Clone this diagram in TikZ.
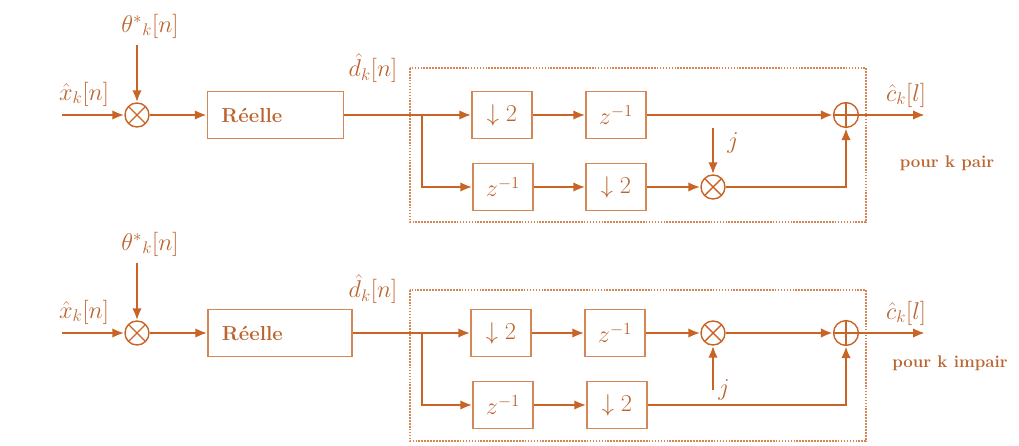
\documentclass[tikz,border=0pt]{standalone}
\usetikzlibrary{arrows.meta}
\definecolor{sigline}{RGB}{200,100,38}
\definecolor{boxline}{RGB}{212,134,84}
\definecolor{labtext}{RGB}{188,100,48}
\tikzset{
  sig/.style={draw=sigline,line width=1.7pt,-{Latex[length=3mm,width=2.4mm]}},
  wire/.style={draw=sigline,line width=1.7pt},
  block/.style={draw=boxline,line width=1pt,minimum width=1.5cm,minimum height=1.18cm,
    inner sep=0pt,text=labtext,font=\LARGE},
  realbox/.style={block,align=left,inner xsep=0.35cm,font=\Large\bfseries},
  frame/.style={draw=boxline,line width=0.9pt,dash pattern=on 1.2pt off 0.9pt},
  mixer/.style={circle,draw=sigline,line width=1pt,minimum size=0.6cm,inner sep=0pt,
    path picture={\draw[sigline,line width=1pt]
      (path picture bounding box.south west) -- (path picture bounding box.north east)
      (path picture bounding box.north west) -- (path picture bounding box.south east);}},
  adder/.style={circle,draw=sigline,line width=1pt,minimum size=0.62cm,inner sep=0pt,
    path picture={\draw[sigline,line width=1pt]
      (path picture bounding box.north) -- (path picture bounding box.south)
      (path picture bounding box.west) -- (path picture bounding box.east);}},
  lab/.style={text=labtext,font=\LARGE},
  note/.style={text=labtext,font=\large\bfseries}
}
\begin{document}
\begin{tikzpicture}[x=0.025cm,y=-0.025cm]
\useasboundingbox (0,0) rectangle (1019,446);
% ---------- k even ----------
\node[mixer] (mix1) at (137,115) {};
\coordinate (in1) at (62,115);
\coordinate (thin1) at (137,45);
\node[lab] (xlab1) at (84,94) {$\hat{x}_k[n]$};
\node[lab] (thlab1) at (150,26) {$\theta^{*}{}_{k}[n]$};
\node[realbox,text width=2.7cm] (reel1) at (275.5,115) {Réelle};
\node[lab] (dlab1) at (373,68) {$\hat{d}_k[n]$};
\draw[frame] (410,68) rectangle (866,222);
\coordinate (sp1) at (422,115);
\node[block] (dec1) at (502,115) {$\downarrow 2$};
\node[block] (del1) at (616,115) {$z^{-1}$};
\node[block] (del2) at (503,187) {$z^{-1}$};
\node[block] (dec2) at (616,187) {$\downarrow 2$};
\node[mixer] (mix2) at (713,187) {};
\coordinate (jin1) at (713,128);
\node[lab] (jlab1) at (733,143) {$j$};
\node[adder] (add1) at (846,115) {};
\coordinate (out1) at (925,115);
\node[lab] (clab1) at (906,95) {$\hat{c}_k[l]$};
\node[note] (pair) at (947,163) {pour k pair};
% connections
\draw[sig] (in1) -- (mix1);
\draw[sig] (thin1) -- (mix1);
\draw[sig] (mix1) -- (reel1);
\draw[wire] (reel1.east) -- (sp1);
\draw[sig] (sp1) -- (dec1);
\draw[sig] (dec1) -- (del1);
\draw[sig] (del1) -- (add1);
\draw[sig] (sp1) |- (del2);
\draw[sig] (del2) -- (dec2);
\draw[sig] (dec2) -- (mix2);
\draw[sig] (jin1) -- (mix2);
\draw[sig] (mix2) -| (add1);
\draw[sig] (add1) -- (out1);
% ---------- k odd ----------
\node[mixer] (mix3) at (137,333) {};
\coordinate (in2) at (62,333);
\coordinate (thin2) at (137,263);
\node[lab] (xlab2) at (84,312) {$\hat{x}_k[n]$};
\node[lab] (thlab2) at (150,244) {$\theta^{*}{}_{k}[n]$};
\node[realbox,text width=2.9cm] (reel2) at (280,333) {Réelle};
\node[lab] (dlab2) at (373,289) {$\hat{d}_k[n]$};
\draw[frame] (410,290) rectangle (866,441);
\coordinate (sp2) at (422,333);
\node[block] (dec3) at (501,333) {$\downarrow 2$};
\node[block] (del3) at (615,333) {$z^{-1}$};
\node[block] (del4) at (503,405) {$z^{-1}$};
\node[block] (dec4) at (617,405) {$\downarrow 2$};
\node[mixer] (mix4) at (713,333) {};
\coordinate (jin2) at (713,390);
\node[lab] (jlab2) at (724,390) {$j$};
\node[adder] (add2) at (846,333) {};
\coordinate (out2) at (925,333);
\node[lab] (clab2) at (906,313) {$\hat{c}_k[l]$};
\node[note] (impair) at (950,363) {pour k impair};
% connections
\draw[sig] (in2) -- (mix3);
\draw[sig] (thin2) -- (mix3);
\draw[sig] (mix3) -- (reel2);
\draw[wire] (reel2.east) -- (sp2);
\draw[sig] (sp2) -- (dec3);
\draw[sig] (dec3) -- (del3);
\draw[sig] (del3) -- (mix4);
\draw[sig] (jin2) -- (mix4);
\draw[sig] (mix4) -- (add2);
\draw[sig] (sp2) |- (del4);
\draw[sig] (del4) -- (dec4);
\draw[sig] (dec4) -| (add2);
\draw[sig] (add2) -- (out2);
\end{tikzpicture}
\end{document}
